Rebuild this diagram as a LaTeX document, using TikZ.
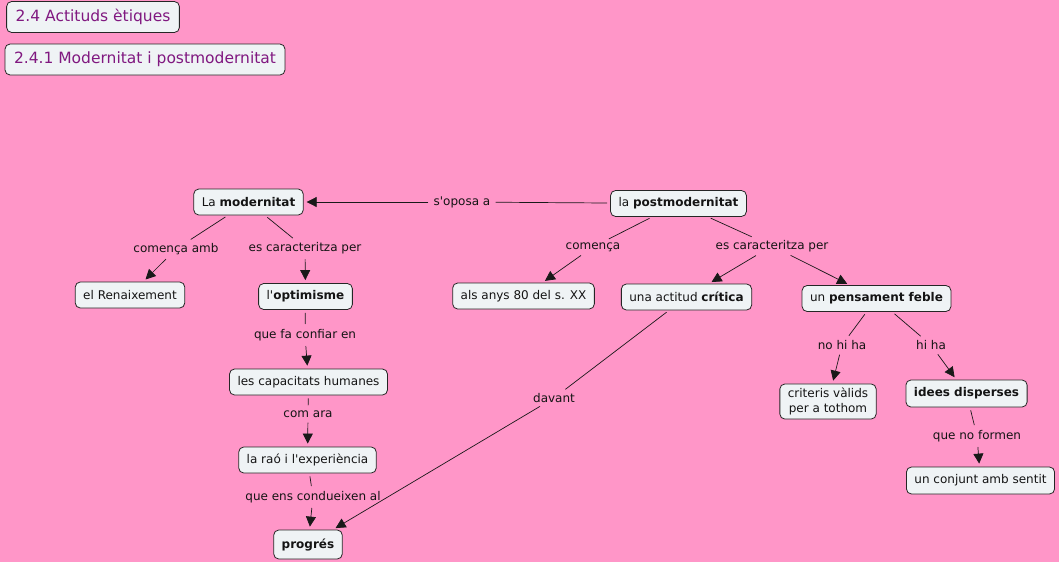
\documentclass[tikz,border=0pt]{standalone}
\usepackage{fontspec}
\newfontfamily\vf{DejaVu Sans}
\usetikzlibrary{arrows.meta}
\definecolor{bgpink}{RGB}{255,150,200}
\definecolor{boxfill}{RGB}{239,243,245}
\definecolor{titlecol}{RGB}{128,24,128}
\definecolor{txt}{RGB}{20,20,20}
\begin{document}
\begin{tikzpicture}[x=1pt,y=-1pt,
  concept/.style={draw=black!85, fill=boxfill, rounded corners=5pt, line width=0.8pt,
    inner xsep=8pt, inner ysep=4pt, minimum height=26pt, font=\vf\fontsize{12}{14}\selectfont, text=txt, align=center},
  title/.style={concept, inner xsep=9pt, minimum height=31pt, font=\vf\fontsize{15.5}{18}\selectfont, text=titlecol},
  lbl/.style={inner sep=2pt, font=\vf\fontsize{12}{14}\selectfont, text=txt},
  ln/.style={draw=black!90, line width=0.7pt, shorten <=3pt, shorten >=3pt},
  arr/.style={ln, -{Triangle[length=10pt,width=10pt]}}
]
\useasboundingbox[fill=bgpink] (0,0) rectangle (1059,562);
% titles
\node[title] (t1) at (93,17) {2.4 Actituds ètiques};
\node[title] (t2) at (145,59.5) {2.4.1 Modernitat i postmodernitat};
% concepts
\node[concept] (mod) at (248.5,202) {La \textbf{modernitat}};
\node[concept] (post) at (678.5,203.5) {la \textbf{postmodernitat}};
\node[concept] (ren) at (130,295) {el Renaixement};
\node[concept] (opt) at (305.5,296.5) {l'\textbf{optimisme}};
\node[concept] (anys) at (523.5,296) {als anys 80 del s. XX};
\node[concept] (crit) at (686.5,297) {una actitud \textbf{crítica}};
\node[concept] (feb) at (876.5,298.5) {un \textbf{pensament feble}};
\node[concept] (cap) at (308.5,382) {les capacitats humanes};
\node[concept] (rao) at (307.5,460) {la raó i l'experiència};
\node[concept, minimum height=29pt] (prog) at (308,544.5) {\textbf{progrés}};
\node[concept, font=\vf\fontsize{12}{15}\selectfont] (crt) at (828,401.5) {criteris vàlids\\per a tothom};
\node[concept, minimum height=27pt] (ide) at (966.5,393.5) {\textbf{idees disperses}};
\node[concept, minimum height=27pt] (conj) at (980.5,480.5) {un conjunt amb sentit};
% labels
\node[lbl] (l1) at (462,202) {s'oposa a};
\node[lbl] (l2) at (176,249) {comença amb};
\node[lbl] (l3) at (305,248) {es caracteritza per};
\node[lbl] (l4) at (593,247) {comença};
\node[lbl] (l5) at (772,246) {es caracteritza per};
\node[lbl] (l6) at (305,335) {que fa confiar en};
\node[lbl] (l7) at (308,414) {com ara};
\node[lbl] (l8) at (313,497) {que ens condueixen al};
\node[lbl] (l9) at (554,398) {davant};
\node[lbl] (l10) at (842,345) {no hi ha};
\node[lbl] (l11) at (931,345) {hi ha};
\node[lbl] (l12) at (977,436) {que no formen};
% connectors
\draw[ln] (post) -- (l1);
\draw[arr] (l1) -- (mod);
\draw[ln] (mod) -- (l2);
\draw[arr] (l2) -- (ren);
\draw[ln] (mod) -- (l3);
\draw[arr] (l3) -- (opt);
\draw[ln] (post) -- (l4);
\draw[arr] (l4) -- (anys);
\draw[ln] (post) -- (l5);
\draw[arr] (l5) -- (crit);
\draw[arr] (l5) -- (feb);
\draw[ln] (opt) -- (l6);
\draw[arr] (l6) -- (cap);
\draw[ln] (cap) -- (l7);
\draw[arr] (l7) -- (rao);
\draw[ln] (rao) -- (l8);
\draw[arr] (l8) -- (prog);
\draw[ln] (crit) -- (l9);
\draw[arr] (l9) -- (prog);
\draw[ln] (feb) -- (l10);
\draw[arr] (l10) -- (crt);
\draw[ln] (feb) -- (l11);
\draw[arr] (l11) -- (ide);
\draw[ln] (ide) -- (l12);
\draw[arr] (l12) -- (conj);
\end{tikzpicture}
\end{document}
